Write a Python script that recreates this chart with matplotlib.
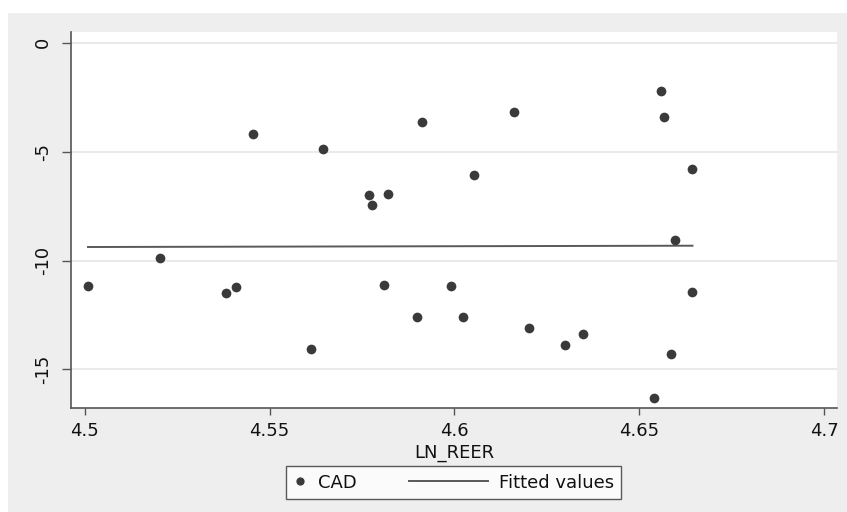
import matplotlib
matplotlib.use("Agg")
import matplotlib.pyplot as plt
from matplotlib.patches import Rectangle
from matplotlib.legend_handler import HandlerLine2D

# ---- data ----
ln_reer = [4.5009, 4.5205, 4.5381, 4.5410, 4.5455, 4.5612, 4.5644, 4.5768, 4.5778,
           4.5809, 4.5821, 4.5900, 4.5912, 4.5992, 4.6023, 4.6053, 4.6160, 4.6201,
           4.6300, 4.6347, 4.6540, 4.6558, 4.6568, 4.6587, 4.6597, 4.6644, 4.6644]
cad = [-11.15, -9.90, -11.51, -11.23, -4.18, -14.06, -4.89, -7.00, -7.46,
       -11.11, -6.96, -12.61, -3.63, -11.18, -12.61, -6.08, -3.17, -13.08,
       -13.90, -13.36, -16.29, -2.21, -3.42, -14.28, -9.05, -5.81, -11.46]
fit_x = [4.5009, 4.6644]
fit_y = [-9.38, -9.32]
xticks = [4.5, 4.55, 4.6, 4.65, 4.7]
xticklabels = ["4.5", "4.55", "4.6", "4.65", "4.7"]
yticks = [0, -5, -10, -15]
yticklabels = ["0", "-5", "-10", "-15"]

plt.rcParams['font.family'] = ['DejaVu Sans']
FS = 13

W, H = 847, 512
fig = plt.figure(figsize=(W / 100, H / 100), dpi=100, facecolor="white")
# gray graph region
fig.patches.append(Rectangle((8 / W, 0), 1 - 8 / W, 1 - 13 / H, transform=fig.transFigure,
                             facecolor="#EEEEEE", edgecolor="none", zorder=-10))

left, right, top, bottom = 71, 837, 32, 408
ax = fig.add_axes([left / W, 1 - bottom / H, (right - left) / W, (bottom - top) / H])
ax.set_facecolor("white")

ax.set_xlim(4.4963, 4.7035)
ax.set_ylim(-16.77, 0.49)

for y in yticks:
    ax.axhline(y, color="#EAEAEA", lw=1.5, zorder=0)

sc, = ax.plot(ln_reer, cad, linestyle="none", marker="o", markersize=7,
              color="#3A3A3A", markeredgewidth=0, label="CAD", zorder=3)
fl, = ax.plot(fit_x, fit_y, color="#595959", lw=1.4, label="Fitted values", zorder=2)

ax.set_xticks(xticks)
ax.set_xticklabels(xticklabels)
ax.set_yticks(yticks)
ax.set_yticklabels(yticklabels, rotation=90, va="center")

for s in ["top", "right"]:
    ax.spines[s].set_visible(False)
ax.spines["left"].set_color("#555555")
ax.spines["bottom"].set_color("#555555")
ax.spines["left"].set_linewidth(1.2)
ax.spines["bottom"].set_linewidth(1.2)

ax.tick_params(axis="x", length=5, width=1, color="#555555", labelsize=FS, pad=5,
               labelcolor="#111111")
ax.tick_params(axis="y", length=6.5, width=1, color="#555555", labelsize=FS, pad=7,
               labelcolor="#111111")
ax.set_xlabel("LN_REER", fontsize=FS, color="#111111", labelpad=3)


class LongLineHandler(HandlerLine2D):
    def get_xdata(self, legend, xdescent, ydescent, width, height, fontsize):
        xdata, xm = super().get_xdata(legend, xdescent, ydescent, width, height, fontsize)
        ext = 3.62 * fontsize
        return [-xdescent - ext, -xdescent + width], xm


leg = fig.legend(handles=[sc, fl], labels=["CAD", "Fitted values"], ncol=2,
                 loc="center", bbox_to_anchor=(453.5 / W, 1 - 482.5 / H),
                 fontsize=FS, frameon=True, fancybox=False, edgecolor="#333333",
                 handlelength=0.75, handletextpad=0.62, columnspacing=6.5,
                 borderpad=0.4, numpoints=1, markerscale=0.85,
                 handler_map={fl: LongLineHandler()})
leg.get_frame().set_linewidth(1.0)
leg.get_frame().set_facecolor("white")
for t in leg.get_texts():
    t.set_color("#111111")

fig.savefig("out.png", dpi=100, facecolor="white")
